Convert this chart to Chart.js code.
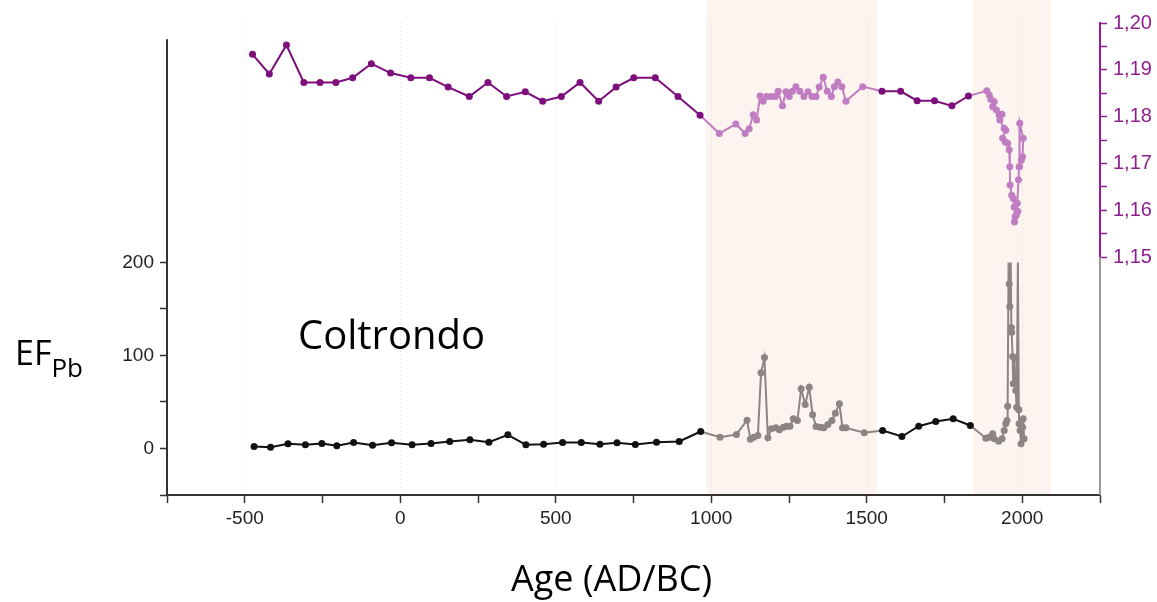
<!DOCTYPE html>
<html>
<head>
<meta charset="utf-8">
<script src="https://cdn.jsdelivr.net/npm/chart.js@4.4.0/dist/chart.umd.min.js"></script>
<style>
body{margin:0;background:#fff;}
#wrap{position:relative;width:1157px;height:602px;}
#chart{position:absolute;left:0;top:0;}
.lbl{position:absolute;font-family:'Open Sans',sans-serif;color:#000;line-height:1;white-space:nowrap;}
</style>
</head>
<body>
<div id="wrap">
<canvas id="chart" width="1157" height="602"></canvas>
<div class="lbl" style="left:15px;top:335px;font-size:34px;">EF<span style="font-size:26px;vertical-align:-12px;">Pb</span></div>
<div class="lbl" style="left:298px;top:314px;font-size:40px;">Coltrondo</div>
<div class="lbl" style="left:511px;top:560px;font-size:36px;">Age (AD/BC)</div>
</div>
<script>
// 206Pb/207Pb ratio (right axis)
var ratioYears=[-475,-421,-366,-310,-258,-207,-153,-93,-31,34,94,154,222,282,342,402,458,518,578,638,694,751,820,893,964,
  1026,1079,1109,1122,1135,1146,1157,1167,1178,1193,1206,1215,1229,1240,1251,1261,1272,1285,1298,1311,1324,1337,1347,1360,1373,1386,1396,1407,1420,1433,1487,
  1549,1609,1662,1718,1774,1827,
  1886,1894,1899,1910,1905,1917,1935,1926,1928,1942,1947,1937,1945,1953,1958,1960,1961,1966,1971,1974,1977,1975,1981,1986,1984,1988,1990,1997,2001,2003,1992,1991];
var ratioValues=[1.1933,1.1891,1.1953,1.1873,1.1873,1.1873,1.1883,1.1913,1.1893,1.1883,1.1883,1.1863,1.1843,1.1873,1.1843,1.1853,1.1833,1.1843,1.1873,1.1833,1.1863,1.1883,1.1883,1.1843,1.1803,
  1.1764,1.1784,1.1764,1.1774,1.1804,1.1793,1.1844,1.1833,1.1843,1.1843,1.1843,1.1854,1.1823,1.1853,1.1843,1.1854,1.1864,1.1854,1.1843,1.1853,1.1843,1.1843,1.1863,1.1884,1.1854,1.1843,1.1864,1.1874,1.1864,1.1833,1.1864,
  1.1854,1.1854,1.1834,1.1834,1.1823,1.1844,
  1.1855,1.1846,1.1837,1.1832,1.1821,1.1814,1.1805,1.1803,1.1793,1.1775,1.1771,1.1754,1.1746,1.1743,1.1729,1.1693,1.1654,1.1632,1.1625,1.1607,1.1586,1.1575,1.1590,1.1597,1.1615,1.1665,1.1693,1.1707,1.1714,1.1754,1.1786,1.1693];

// EF Pb (left axis), values above 200 are cut at 200
var efYears=[-470,-417,-361,-305,-252,-204,-150,-89,-28,38,99,159,224,285,346,404,461,522,582,642,697,756,824,897,966,
  1028,1081,1115,1126,1137,1150,1160,1171,1182,1193,1208,1219,1232,1242,1253,1264,1277,1289,1302,1315,1326,1337,1350,1362,1375,1388,1399,1412,1422,1433,1492,
  1551,1613,1667,1722,1778,1833,
  1883,1894,1905,1910,1924,1935,1942,1947,1951,1953,1956,1958,1960,1963,1965,1966,1969,1971,1975,1979,1982,1986,1989,1990,1993,1996,2001,2003,2006];
var efValues=[2.2,1.4,5.1,4.0,5.4,2.9,6.5,3.5,6.1,4.0,5.4,7.5,9.4,6.8,14.7,4.0,4.6,6.5,6.5,4.6,6.1,4.3,6.8,7.5,18.3,
  12.2,15.1,30.4,10.0,12.2,14.0,81.4,97.8,11.5,21.2,22.3,20.1,22.9,24.0,24.0,31.9,30.1,64.2,47.3,65.9,36.2,23.7,22.9,22.3,25.8,30.1,38.0,48.1,22.3,22.3,16.9,
  19.4,12.9,24.0,29.0,31.9,24.7,
  11.1,12.2,15.8,10.4,7.8,10.4,19.4,26.6,30.1,45.5,200,177,152.7,200,130,125,99,69.6,97.5,62.4,44.4,200,41.6,26.6,19.4,5.1,22.9,31.9,10.4];

// shaded periods
var shadeFrom=[984,1842];
var shadeTo=[1534,2093];

// ticks
var xTicks=[-750,-500,-250,0,250,500,750,1000,1250,1500,1750,2000,2250];
var xLabels=[-500,0,500,1000,1500,2000];
var leftTicks=[-50,0,50,100,150,200];
var leftLabels=[0,100,200];
var rightTicks=[1.15,1.155,1.16,1.165,1.17,1.175,1.18,1.185,1.19,1.195,1.2];
var rightLabels=['1,15','1,16','1,17','1,18','1,19','1,20'];

var purple='#7d0f7d', purpleLight='#c17dc1', black='#111', grey='#8c8582';
var tickFont={family:"'Liberation Sans', Arial, sans-serif",size:19};

function inShade(x){
  for(var i=0;i<shadeFrom.length;i++){
    if(x>=shadeFrom[i]&&x<=shadeTo[i]) return true;
  }
  return false;
}
function pts(xs,ys){
  return xs.map(function(x,i){return {x:x,y:ys[i]};});
}

var decor={
  id:'decor',
  beforeDraw:function(chart){
    var c=chart.ctx, a=chart.chartArea, sx=chart.scales.x;
    c.save();
    c.fillStyle='#fdf4ef';
    for(var i=0;i<shadeFrom.length;i++){
      var x0=sx.getPixelForValue(shadeFrom[i]), x1=sx.getPixelForValue(shadeTo[i]);
      c.fillRect(x0,0,x1-x0,a.bottom);
    }
    c.strokeStyle='#dedede';
    c.lineWidth=1;
    c.setLineDash([1,3]);
    xLabels.forEach(function(v){
      var px=Math.round(sx.getPixelForValue(v))+0.5;
      c.beginPath();c.moveTo(px,a.top);c.lineTo(px,a.bottom);c.stroke();
    });
    c.restore();
  },
  afterDraw:function(chart){
    var c=chart.ctx, a=chart.chartArea, r=chart.scales.y1, l=chart.scales.y;
    var yTop=r.getPixelForValue(1.20), yMid=r.getPixelForValue(1.15);
    c.save();
    c.lineWidth=2;
    c.strokeStyle='#333';
    c.beginPath();c.moveTo(a.left,l.getPixelForValue(440));c.lineTo(a.left,a.bottom+1);c.stroke();
    c.strokeStyle='#9a9a9a';
    c.beginPath();c.moveTo(a.right,yMid);c.lineTo(a.right,a.bottom);c.stroke();
    c.strokeStyle='#8f1f8f';
    c.beginPath();c.moveTo(a.right,yTop-1);c.lineTo(a.right,yMid);c.stroke();
    c.restore();
  }
};

new Chart(document.getElementById('chart'),{
  type:'line',
  data:{
    datasets:[
      {
        label:'206Pb/207Pb',
        yAxisID:'y1',
        data:pts(ratioYears,ratioValues),
        borderColor:purple,
        borderWidth:2,
        pointRadius:3.5,
        pointBorderWidth:0,
        pointBackgroundColor:function(ctx){return inShade(ctx.raw.x)?purpleLight:purple;},
        segment:{borderColor:function(ctx){return inShade((ctx.p0.parsed.x+ctx.p1.parsed.x)/2)?purpleLight:purple;}}
      },
      {
        label:'EF Pb',
        yAxisID:'y',
        data:pts(efYears,efValues),
        borderColor:black,
        borderWidth:2,
        pointRadius:function(ctx){return ctx.raw&&ctx.raw.y>=200?0:3.5;},
        pointBorderWidth:0,
        pointBackgroundColor:function(ctx){return inShade(ctx.raw.x)?grey:black;},
        segment:{borderColor:function(ctx){return inShade((ctx.p0.parsed.x+ctx.p1.parsed.x)/2)?grey:black;}}
      }
    ]
  },
  plugins:[decor],
  options:{
    responsive:false,
    animation:false,
    layout:{padding:{top:23,left:0,right:0,bottom:0},autoPadding:false},
    plugins:{legend:{display:false},tooltip:{enabled:false}},
    scales:{
      x:{
        type:'linear',
        min:-750,max:2250,
        afterBuildTicks:function(s){s.ticks=xTicks.map(function(v){return {value:v};});},
        afterFit:function(s){s.height=107;},
        ticks:{
          autoSkip:false,maxRotation:0,padding:4,color:'#222',font:tickFont,
          callback:function(v){return xLabels.indexOf(v)>=0?String(v):'';}
        },
        grid:{drawOnChartArea:false,tickLength:8,tickColor:'#333',tickWidth:1.5},
        border:{display:true,color:'#333',width:2}
      },
      y:{
        type:'linear',position:'left',
        min:-50,max:457.5,
        afterBuildTicks:function(s){s.ticks=leftTicks.map(function(v){return {value:v};});},
        afterFit:function(s){s.width=167;},
        ticks:{
          autoSkip:false,padding:6,color:'#222',font:tickFont,
          callback:function(v){return leftLabels.indexOf(v)>=0?String(v):'';}
        },
        grid:{drawOnChartArea:false,tickLength:7,tickColor:'#333',tickWidth:1.5},
        border:{display:false}
      },
      y1:{
        type:'linear',position:'right',
        min:1.09915,max:1.20,
        afterBuildTicks:function(s){s.ticks=rightTicks.map(function(v){return {value:v};});},
        afterFit:function(s){s.width=57;},
        ticks:{
          autoSkip:false,padding:6,color:'#8f1f8f',font:{family:tickFont.family,size:20},
          callback:function(v){
            var k=Math.round(v*1000);
            return k%10===0?rightLabels[(k-1150)/10]:'';
          }
        },
        grid:{drawOnChartArea:false,tickLength:7,tickColor:'#8f1f8f',tickWidth:1.5},
        border:{display:false}
      }
    }
  }
});
</script>
</body>
</html>
